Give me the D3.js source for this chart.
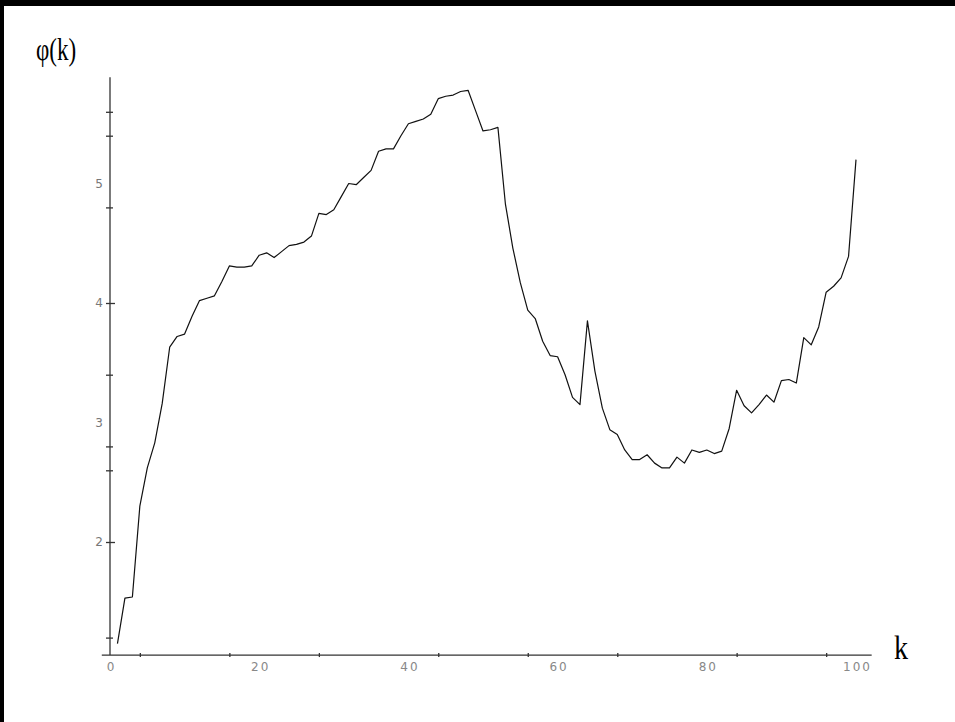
<!DOCTYPE html>
<html>
<head>
<meta charset="utf-8">
<script src="https://cdn.jsdelivr.net/npm/d3@7"></script>
<style>
  body { margin: 0; background: #fff; }
</style>
</head>
<body>
<svg id="chart" width="955" height="722"></svg>
<script>

// values of phi(k), k = 1..100
var kValues = d3.range(1, 101);
var phiValues = [
  1.15, 1.53, 1.54, 2.30, 2.62, 2.83, 3.16, 3.63, 3.72, 3.74,
  3.89, 4.02, 4.04, 4.06, 4.18, 4.31, 4.30, 4.30, 4.31, 4.40,
  4.42, 4.38, 4.43, 4.48, 4.49, 4.51, 4.56, 4.75, 4.74, 4.78,
  4.89, 5.00, 4.99, 5.05, 5.11, 5.27, 5.29, 5.29, 5.40, 5.50,
  5.52, 5.54, 5.58, 5.71, 5.73, 5.74, 5.77, 5.78, 5.61, 5.44,
  5.45, 5.47, 4.83, 4.46, 4.17, 3.94, 3.87, 3.68, 3.56, 3.55,
  3.40, 3.21, 3.15, 3.85, 3.43, 3.12, 2.94, 2.90, 2.77, 2.69,
  2.69, 2.73, 2.66, 2.62, 2.62, 2.71, 2.66, 2.77, 2.75, 2.77,
  2.74, 2.76, 2.95, 3.27, 3.14, 3.08, 3.15, 3.23, 3.17, 3.35,
  3.36, 3.33, 3.71, 3.65, 3.80, 4.09, 4.14, 4.21, 4.39, 5.20
];

// tick marks and tick labels (they do not coincide in the original)
var xTickMarks = [4, 16, 28, 44, 56, 68, 84, 96];
var xTickLabels = [0, 20, 40, 60, 80, 100];
var yTickMarks = [1.2, 2, 2.6, 2.8, 3.4, 4, 4.8, 5.4, 5.6];
var yTickLabels = [2, 3, 4, 5];

var svg = d3.select("#chart");

var x = d3.scaleLinear().domain([0, 100]).range([110, 856]),
    y = d3.scaleLinear().domain([2, 5]).range([542, 183.5]);

var axisColor = "#333";

// frame (thick top and left edge)
svg.append("rect").attr("x", 0).attr("y", 0).attr("width", 955).attr("height", 6).attr("fill", "#000");
svg.append("rect").attr("x", 0).attr("y", 0).attr("width", 4).attr("height", 722).attr("fill", "#000");

var y0 = y(1.054); // where the k axis sits

// axis lines
svg.append("line")
    .attr("x1", x(-1.1)).attr("x2", x(102.1))
    .attr("y1", y0).attr("y2", y0)
    .attr("stroke", axisColor).attr("stroke-width", 1.3);
svg.append("line")
    .attr("x1", x(0)).attr("x2", x(0))
    .attr("y1", y0).attr("y2", y(5.89))
    .attr("stroke", axisColor).attr("stroke-width", 1.3);

// x tick marks
var gxm = svg.append("g")
    .attr("transform", "translate(0," + y0 + ")")
    .call(d3.axisBottom(x).tickValues(xTickMarks).tickFormat("").tickSize(2));
gxm.select(".domain").remove();
gxm.selectAll("line").attr("y1", -2).attr("stroke", axisColor).attr("stroke-width", 1.3);

// x tick labels
var gxl = svg.append("g")
    .attr("transform", "translate(0," + y0 + ")")
    .call(d3.axisBottom(x).tickValues(xTickLabels).tickFormat(d3.format("d")).tickSize(0).tickPadding(7));
gxl.select(".domain").remove();
gxl.selectAll("text")
    .attr("font-family", "DejaVu Sans, sans-serif")
    .attr("font-size", 12)
    .attr("letter-spacing", 2)
    .attr("dx", 1)
    .attr("fill", "#888");

// y tick marks
var gym = svg.append("g")
    .attr("transform", "translate(" + x(0) + ",0)")
    .call(d3.axisLeft(y).tickValues(yTickMarks).tickFormat("").tickSize(4));
gym.select(".domain").remove();
gym.selectAll("line").attr("x2", -4).attr("x1", function(d) { return (d === 2 || d === 4) ? 5 : 3; })
    .attr("stroke", axisColor).attr("stroke-width", 1.3);

// y tick labels
var gyl = svg.append("g")
    .attr("transform", "translate(" + x(0) + ",0)")
    .call(d3.axisLeft(y).tickValues(yTickLabels).tickFormat(d3.format("d")).tickSize(0).tickPadding(7));
gyl.select(".domain").remove();
gyl.selectAll("text")
    .attr("font-family", "DejaVu Sans, sans-serif")
    .attr("font-size", 12)
    .attr("fill", "#777");

// the curve
var line = d3.line()
    .x(function(d, i) { return x(kValues[i]); })
    .y(function(d) { return y(d); });

svg.append("path")
    .datum(phiValues)
    .attr("d", line)
    .attr("fill", "none")
    .attr("stroke", "#111")
    .attr("stroke-width", 1.2)
    .attr("stroke-linejoin", "round");

// axis titles (condensed serif, as in the original)
svg.append("text")
    .attr("transform", "translate(36,60) scale(0.72,1)")
    .attr("font-family", "Liberation Serif, Times New Roman, serif")
    .attr("font-size", 32)
    .attr("fill", "#000")
    .text("φ(k)");

svg.append("text")
    .attr("transform", "translate(894,659) scale(0.85,1)")
    .attr("font-family", "Liberation Serif, Times New Roman, serif")
    .attr("font-size", 33)
    .attr("fill", "#000")
    .text("k");

</script>
</body>
</html>
